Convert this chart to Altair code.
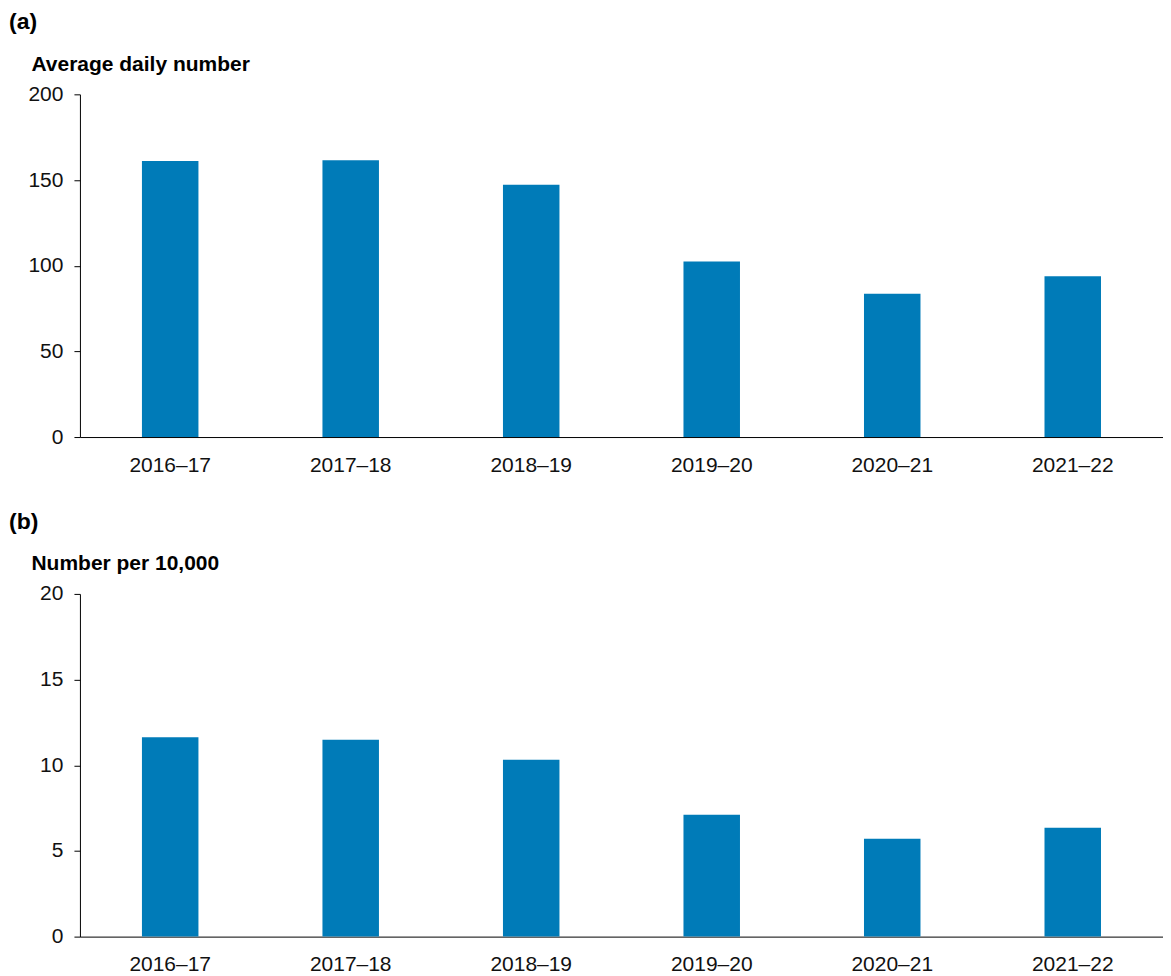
import altair as alt
import pandas as pd

years = ["2016–17", "2017–18", "2018–19", "2019–20", "2020–21", "2021–22"]
avg_daily = [161.1, 161.5, 147.3, 102.4, 83.6, 93.9]
rate_per_10000 = [11.64, 11.49, 10.32, 7.11, 5.71, 6.36]

FONT = "Liberation Sans"
BAR = "#007bb8"

def panel(values, label, ytitle, ymax, step):
    df = pd.DataFrame({"year": years, "value": values})
    return alt.Chart(df, title=alt.Title(
        label, anchor="start", frame="group", dx=-71, offset=19,
        fontSize=23, fontWeight="bold", font=FONT, color="#000")).mark_bar(color=BAR).encode(
        x=alt.X("year:N", sort=years,
                scale=alt.Scale(paddingInner=0.687, paddingOuter=0.3435),
                axis=alt.Axis(title=None, labelAngle=0, ticks=False, domainColor="#000",
                              labelFontSize=21, labelFont=FONT, labelColor="#111",
                              labelPadding=17)),
        y=alt.Y("value:Q", scale=alt.Scale(domain=[0, ymax], nice=False),
                axis=alt.Axis(title=ytitle, values=list(range(0, ymax + 1, step)),
                              grid=False, domainColor="#000", tickColor="#000", tickSize=6,
                              labelFontSize=21, labelFont=FONT, labelColor="#111", labelPadding=11,
                              titleAngle=0, titleAlign="left", titleBaseline="alphabetic",
                              titleX=-49, titleY=-24, titleFontSize=21, titleFont=FONT,
                              titleFontWeight="bold", titleColor="#000")),
    ).properties(width=1084, height=343)

top = panel(avg_daily, "(a)", "Average daily number", 200, 50)
bottom = panel(rate_per_10000, "(b)", "Number per 10,000", 20, 5)

chart = alt.vconcat(top, bottom, spacing=36).properties(
    padding={"left": 1, "top": 3, "right": 0, "bottom": 0}
).configure_view(stroke=None)

chart.save("out.html", embed_options={"renderer": "svg", "actions": False})
